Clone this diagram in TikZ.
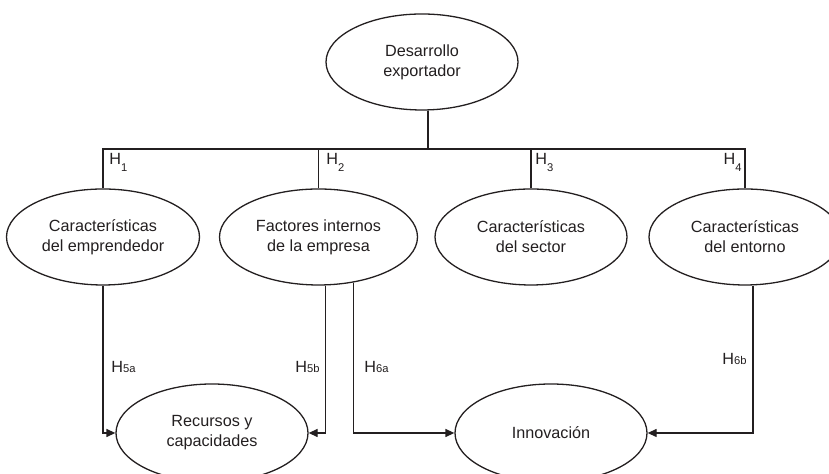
\documentclass[tikz,border=0pt]{standalone}
\usepackage{fontspec}
\setmainfont{Liberation Sans}
\usepackage{xcolor}
\usepackage{tikz}
\usetikzlibrary{calc,arrows.meta,shapes.geometric}
\definecolor{ink}{HTML}{231F20}
\newcommand{\hlow}[1]{H\raisebox{-3.5pt}{\fontsize{5.6}{6}\selectfont #1}}
\newcommand{\hsml}[1]{H{\fontsize{5.6}{6}\selectfont #1}}
\tikzset{
  oval/.style={draw=ink, ellipse, line width=0.65pt, minimum width=96pt, minimum height=48pt,
    inner sep=0pt, align=center, text=ink, font=\fontsize{8.1}{10}\selectfont},
  link/.style={draw=ink, line width=0.65pt},
  arr/.style={link, -{Triangle[length=4.5pt,width=4pt]}},
  hyp/.style={text=ink, inner sep=0pt, font=\fontsize{8.1}{10}\selectfont},
}

\begin{document}
\begin{tikzpicture}[x=0.5pt,y=0.5pt]
  \clip (0,0) rectangle (829,474);
  \node[oval] (des) at (422,412) {Desarrollo\\exportador};
  \node[oval,minimum width=96.5pt] (emp) at (103,237) {Características\\del emprendedor};
  \node[oval,minimum width=99pt] (fac) at (318.5,237) {Factores internos\\de la empresa};
  \node[oval] (sec) at (531,237) {Características\\del sector};
  \node[oval] (ent) at (745,237) {Características\\del entorno};
  \node[oval,minimum height=49pt] (rec) at (212,41) {Recursos y\\capacidades};
  \node[oval,minimum height=49pt] (inn) at (551,41) {Innovación};
  \coordinate (bus) at (428,325);
  % tree from the top
  \draw[link] (des.south -| bus) -- (bus);
  \draw[link] (emp.north) |- (bus);
  \draw[link] (ent.north) |- (bus);
  \draw[link] (fac.north) -- (fac.north |- bus);
  \draw[link] (sec.north) -- (sec.north |- bus);
  \node[hyp,anchor=north west] (h1) at (109,321) {\hlow{1}};
  \node[hyp,anchor=north west] (h2) at (326,321) {\hlow{2}};
  \node[hyp,anchor=north west] (h3) at (535,321) {\hlow{3}};
  \node[hyp,anchor=north east] (h4) at (742,321) {\hlow{4}};
  % lower arrows
  \draw[arr] (emp.south) |- (rec.west);
  \draw[arr] ([xshift=3.5pt]fac.south) |- (rec.east);
  \draw[arr] ([xshift=17.5pt,yshift=1.5pt]fac.south) |- (inn.west);
  \draw[arr] ([xshift=4pt]ent.south) |- (inn.east);
  \node[hyp,anchor=north west] (h5a) at (111,113) {\hsml{5a}};
  \node[hyp,anchor=north east] (h5b) at (320,113) {\hsml{5b}};
  \node[hyp,anchor=north west] (h6a) at (364,113) {\hsml{6a}};
  \node[hyp,anchor=north east] (h6b) at (747,121) {\hsml{6b}};
\end{tikzpicture}
\end{document}
